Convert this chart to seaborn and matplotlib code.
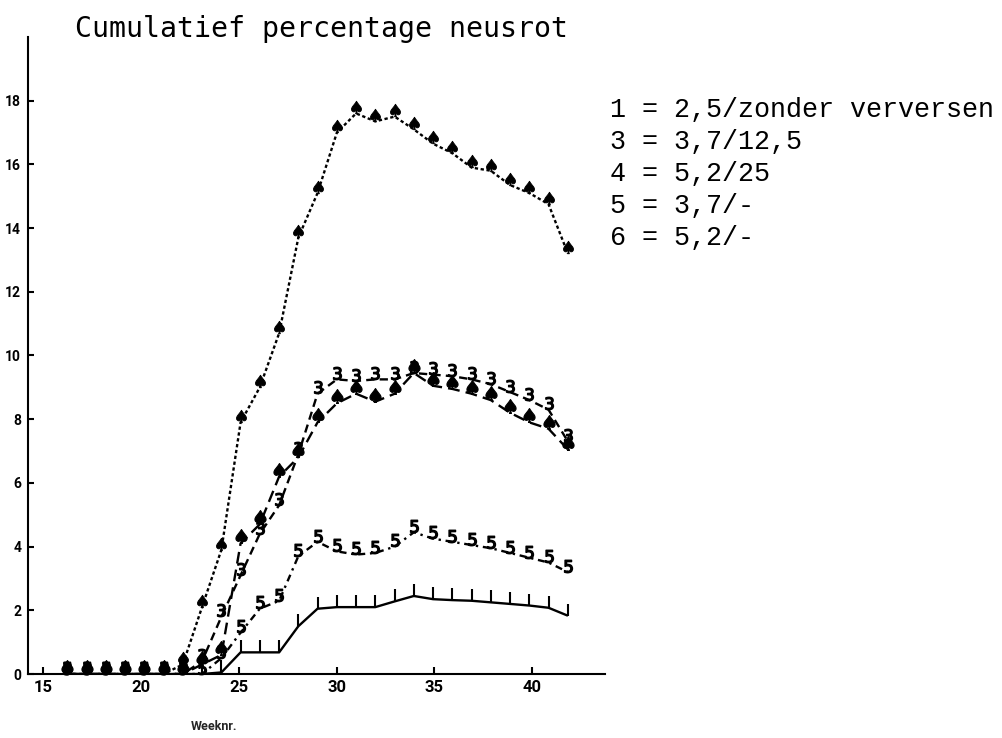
import numpy as np
import pandas as pd
import matplotlib
matplotlib.use("Agg")
import matplotlib.pyplot as plt
import seaborn as sns
from matplotlib.path import Path
from matplotlib.transforms import offset_copy

# ---------------- data ----------------
weeks = [16.25, 17.23, 18.22, 19.20, 20.18, 21.17, 22.15, 23.13, 24.12,
         25.10, 26.08, 27.07, 28.05, 29.03, 30.02, 31.00, 31.98, 32.97,
         33.95, 34.93, 35.92, 36.90, 37.88, 38.87, 39.85, 40.83, 41.82]

serie_1 = [0, 0, 0, 0, 0, 0, 0.3, 2.1, 3.9, 7.9, 9.0, 10.7, 13.7, 15.1, 17.0,
           17.6, 17.35, 17.5, 17.1, 16.65, 16.35, 15.9, 15.8, 15.35, 15.1, 14.75, 13.2]
serie_3 = [0, 0, 0, 0, 0, 0, 0, 0.4, 1.8, 3.1, 4.4, 5.3, 6.9, 8.8, 9.25,
           9.2, 9.25, 9.25, 9.45, 9.4, 9.35, 9.25, 9.1, 8.85, 8.6, 8.3, 7.3]
serie_4 = [0, 0, 0, 0, 0, 0, 0, 0.3, 0.6, 4.1, 4.7, 6.2, 6.8, 7.9, 8.5,
           8.8, 8.55, 8.8, 9.45, 9.05, 8.95, 8.8, 8.6, 8.2, 7.9, 7.7, 7.05]
serie_5 = [0, 0, 0, 0, 0, 0, 0, 0, 0.5, 1.3, 2.05, 2.3, 3.7, 4.15, 3.85,
           3.75, 3.8, 4.0, 4.45, 4.25, 4.15, 4.05, 3.95, 3.8, 3.65, 3.5, 3.2]
serie_6 = [0, 0, 0, 0, 0, 0, 0, 0, 0.05, 0.68, 0.68, 0.68, 1.5, 2.05, 2.1,
           2.1, 2.1, 2.28, 2.45, 2.35, 2.32, 2.3, 2.25, 2.2, 2.15, 2.08, 1.83]

legend_lines = ["1 = 2,5/zonder verversen",
                "3 = 3,7/12,5",
                "4 = 5,2/25",
                "5 = 3,7/-",
                "6 = 5,2/-"]
title_text = "Cumulatief percentage neusrot"
x_label = "Weeknr."
x_ticks = [15, 20, 25, 30, 35, 40]
y_ticks = [0, 2, 4, 6, 8, 10, 12, 14, 16, 18]

# ---------------- styling ----------------
sns.set_theme(style="white")
plt.rcParams['font.family'] = ['DejaVu Sans']
plt.rcParams['lines.solid_capstyle'] = 'butt'

fig = plt.figure(figsize=(10.03, 7.38), dpi=100)
ax = fig.add_axes([0.0279, 0.0867, 0.575, 0.8632])

tick_path = Path([(0, 0), (0, 1)], [Path.MOVETO, Path.LINETO])

series = [
    # values, linestyle, marker, markersize, vertical offset (pt), edge width
    (serie_1, (0, (1.4, 1.1)), r"$\spadesuit$", 9, 4.5, 0.6),
    (serie_3, (0, (3.5, 2.2)), r"$3$", 9, 4.5, 1.0),
    (serie_4, (0, (5.0, 2.6)), r"$\spadesuit$", 10, 5.0, 0.8),
    (serie_5, (0, (3.0, 2.0, 1.0, 2.0)), r"$5$", 9, 4.5, 1.0),
    (serie_6, "-", tick_path, 17, 0, 1.5),
]

for vals, ls, mk, ms, dy, mew in series:
    sns.lineplot(x=weeks, y=vals, ax=ax, color="black", lw=1.7,
                 linestyle=ls, legend=False)
    tr = offset_copy(ax.transData, fig=fig, y=dy, units="points")
    ax.plot(weeks, vals, ls="none", marker=mk, ms=ms, mfc="black",
            mec="black", mew=mew, transform=tr, clip_on=False)

ax.set_xlim(14.24, 43.7)
ax.set_ylim(0, 20)

for side in ["top", "right"]:
    ax.spines[side].set_visible(False)
for side in ["left", "bottom"]:
    ax.spines[side].set_color("black")
    ax.spines[side].set_linewidth(1.5)

ax.set_xticks(x_ticks)
ax.set_xticklabels([str(t) for t in x_ticks], fontfamily="Roboto",
                   fontweight="bold", fontsize=12)
ax.set_yticks(y_ticks)
ax.set_yticklabels([str(t) for t in y_ticks], fontfamily="Roboto",
                   fontweight="bold", fontsize=10)
ax.tick_params(axis="x", bottom=True, direction="in", length=5, width=1.5,
               pad=4, colors="black")
ax.tick_params(axis="y", left=True, direction="in", length=4, width=1.5,
               pad=5, colors="black")
ax.grid(False)
ax.set_xlabel("")
ax.set_ylabel("")

fig.text(214 / 1003, 1 - 726 / 738, x_label, fontfamily="Roboto",
         fontweight="bold", fontsize=9, ha="center", va="center")

fig.text(75 / 1003, 1 - 37 / 738, title_text, fontfamily="DejaVu Sans Mono",
         fontsize=20.3, ha="left", va="baseline", color="black")

baselines = [117, 149, 181, 213, 245]
for line, yb in zip(legend_lines, baselines):
    fig.text(610 / 1003, 1 - yb / 738, line, fontfamily="Liberation Mono",
             fontsize=19.3, ha="left", va="baseline", color="black")

fig.savefig("out.png", dpi=100, facecolor="white")
